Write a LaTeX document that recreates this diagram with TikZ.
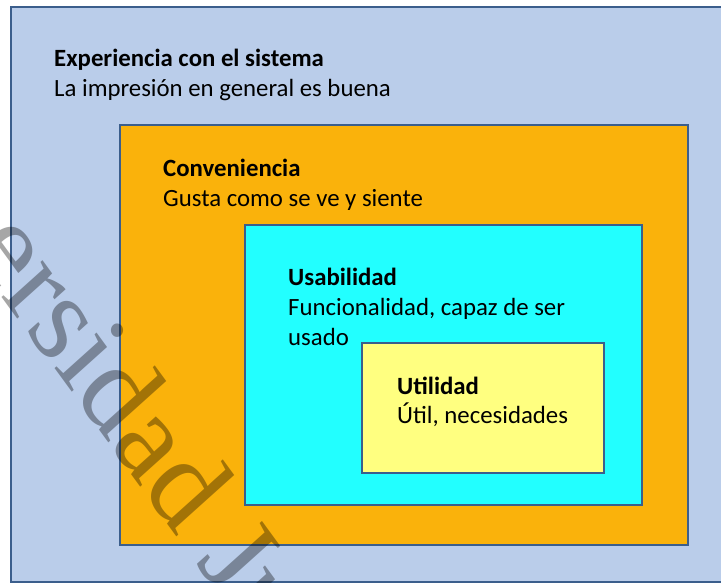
\documentclass[tikz,border=0pt]{standalone}
\usepackage{fontspec}
\setmainfont{Carlito}
\newfontfamily\wmfont{Liberation Serif}
\definecolor{cBlue}{HTML}{BACDEA}
\definecolor{cOrange}{HTML}{FAB20B}
\definecolor{cCyan}{HTML}{22FFFF}
\definecolor{cYellow}{HTML}{FFFF80}
\definecolor{cBorder}{HTML}{3B5E8C}
\tikzset{
  boxframe/.style={draw=cBorder, line width=1.6pt},
  title/.style={anchor=base west, inner sep=0pt, font=\fontsize{24.8}{30}\selectfont\bfseries},
  desc/.style={anchor=base west, inner sep=0pt, font=\fontsize{24.8}{30}\selectfont},
  watermark/.style={transform shape, anchor=base west, inner sep=0pt, text=black, text opacity=0.35,
      font=\wmfont\fontsize{115}{115}\selectfont},
}
\begin{document}
\begin{tikzpicture}[x=1pt,y=-1pt]
\useasboundingbox (0,0) rectangle (721,583);
\begin{scope}
\clip (0,0) rectangle (721,583);
\fill[white] (0,0) rectangle (721,583);
\draw[boxframe, fill=cBlue] (11,7) rectangle (740,582);
\draw[boxframe, fill=cOrange] (120,125) rectangle (688,545);
\draw[boxframe, fill=cCyan] (245,225) rectangle (642,505);
\draw[boxframe, fill=cYellow] (362,343) rectangle (604,473);

\node[title] (t1) at (54,67) {Experiencia con el sistema};
\node[desc] (d1) at (54,97) {La impresión en general es buena};
\node[title] (t2) at (163,177) {Conveniencia};
\node[desc] (d2) at (163,207) {Gusta como se ve y siente};
\node[title] (t3) at (288,285) {Usabilidad};
\node[desc] (d3) at (288,315) {Funcionalidad, capaz de ser};
\node[desc] (d3b) at (288,345) {usado};
\node[title] (t4) at (397,394) {Utilidad};
\node[desc] (d4) at (397,423) {Útil, necesidades};

\begin{scope}[shift={(-31.5,251)}, yscale=1.11]
\node[watermark, rotate=-51] (wm) at (0,0) {ersidad Ju};
\end{scope}
\end{scope}
\end{tikzpicture}
\end{document}
